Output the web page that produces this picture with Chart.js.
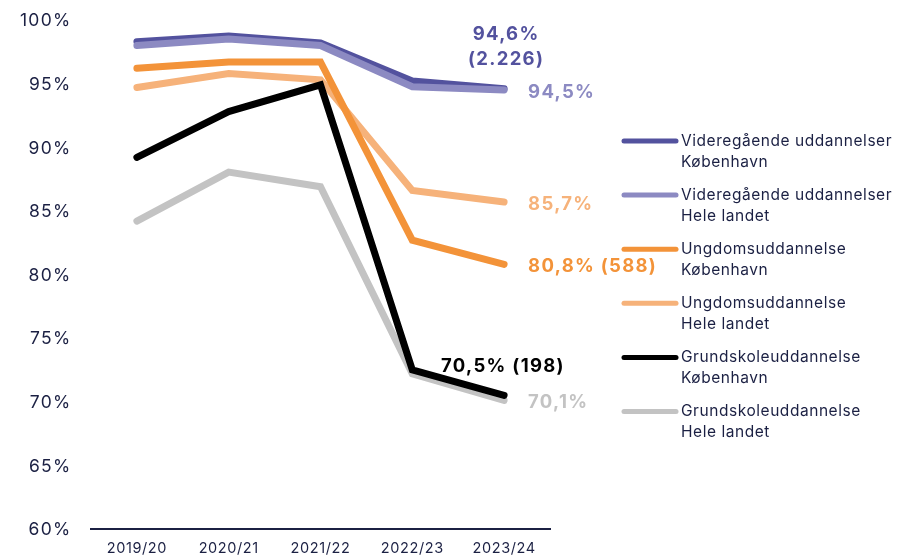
<!DOCTYPE html>
<html>
<head>
<meta charset="utf-8">
<script src="https://cdn.jsdelivr.net/npm/chart.js@4/dist/chart.umd.min.js"></script>
<style>
  html, body { margin: 0; padding: 0; background: #ffffff; }
  #wrap { width: 900px; height: 558px; position: relative; }
</style>
</head>
<body>
<div id="wrap"><canvas id="c" width="900" height="558"></canvas></div>
<script>
const categories = ["2019/20", "2020/21", "2021/22", "2022/23", "2023/24"];
const yTicks = [60, 65, 70, 75, 80, 85, 90, 95, 100];

const vidKbh   = [98.3, 98.75, 98.2, 95.2, 94.6];
const vidHele  = [98.0, 98.5, 98.0, 94.75, 94.5];
const ungKbh   = [96.2, 96.7, 96.7, 82.7, 80.8];
const ungHele  = [94.7, 95.8, 95.3, 86.6, 85.7];
const grundKbh = [89.2, 92.8, 94.9, 72.5, 70.5];
const grundHele= [84.2, 88.05, 86.9, 72.2, 70.1];

const seriesNames = [
  ["Videregående uddannelser", "København"],
  ["Videregående uddannelser", "Hele landet"],
  ["Ungdomsuddannelse", "København"],
  ["Ungdomsuddannelse", "Hele landet"],
  ["Grundskoleuddannelse", "København"],
  ["Grundskoleuddannelse", "Hele landet"]
];
const endLabels = [
  ["94,6%", "(2.226)"],
  ["94,5%"],
  ["80,8% (588)"],
  ["85,7%"],
  ["70,5% (198)"],
  ["70,1%"]
];

const colors = ["#53529e", "#8c8ac2", "#f39339", "#f6b27a", "#000000", "#c3c3c3"];
const drawOrder = [6, 5, 4, 5, 2, 3];
const navy = "#1b2043";
const FONT = "Inter, 'Open Sans', sans-serif";

const allData = [vidKbh, vidHele, ungKbh, ungHele, grundKbh, grundHele];

const datasets = allData.map((d, i) => ({
  label: seriesNames[i].join(" "),
  data: d,
  borderColor: colors[i],
  backgroundColor: colors[i],
  borderWidth: 7,
  pointRadius: 0,
  pointHoverRadius: 0,
  tension: 0,
  borderCapStyle: "round",
  borderJoinStyle: "miter",
  order: drawOrder[i]
}));

const tickPlugin = {
  id: "tickLabels",
  afterDraw(chart) {
    const ctx = chart.ctx;
    ctx.save();
    ctx.fillStyle = navy;
    ctx.textBaseline = "middle";
    const ys = chart.scales.y;
    ctx.font = "400 17.5px " + FONT;
    ctx.letterSpacing = "1.3px";
    ctx.textAlign = "right";
    ys.ticks.forEach((t, i) => {
      ctx.fillText(t.value + "%", 71.5, ys.getPixelForTick(i) + 1);
    });
    const xs = chart.scales.x;
    ctx.font = "400 14.5px " + FONT;
    ctx.letterSpacing = "0.6px";
    ctx.textAlign = "center";
    xs.ticks.forEach((t, i) => {
      ctx.fillText(categories[i], xs.getPixelForTick(i), 549);
    });
    ctx.restore();
  }
};

const endLabelPlugin = {
  id: "endLabels",
  afterDatasetsDraw(chart) {
    const ctx = chart.ctx;
    ctx.save();
    ctx.font = "bold 18.5px " + FONT;
    ctx.letterSpacing = "1.3px";
    ctx.textBaseline = "middle";
    chart.data.datasets.forEach((ds, i) => {
      const meta = chart.getDatasetMeta(i);
      const pt = meta.data[meta.data.length - 1];
      const lines = endLabels[i];
      ctx.fillStyle = colors[i];
      if (i === 0) {
        ctx.textAlign = "center";
        ctx.fillText(lines[0], pt.x + 2, pt.y - 54);
        ctx.fillText(lines[1], pt.x + 2, pt.y - 29);
      } else if (i === 4) {
        ctx.textAlign = "left";
        ctx.fillText(lines[0], pt.x - 63, pt.y - 29);
      } else {
        ctx.textAlign = "left";
        ctx.fillText(lines[0], pt.x + 24, pt.y + 2);
      }
    });
    ctx.restore();
  }
};

const legendPlugin = {
  id: "customLegend",
  afterDraw(chart) {
    const ctx = chart.ctx;
    ctx.save();
    const x0 = 622, x1 = 678, tx = 681, y0 = 141, step = 54.1;
    chart.data.datasets.forEach((ds, i) => {
      const y = y0 + i * step;
      ctx.strokeStyle = colors[i];
      ctx.lineWidth = 5;
      ctx.lineCap = "round";
      ctx.beginPath();
      ctx.moveTo(x0 + 2, y);
      ctx.lineTo(x1 - 2, y);
      ctx.stroke();
      ctx.fillStyle = navy;
      ctx.font = "400 15.5px " + FONT;
      ctx.letterSpacing = "0.55px";
      ctx.textAlign = "left";
      ctx.textBaseline = "middle";
      ctx.fillText(seriesNames[i][0], tx, y);
      ctx.fillText(seriesNames[i][1], tx, y + 21);
    });
    ctx.restore();
  }
};

new Chart(document.getElementById("c"), {
  type: "line",
  data: { labels: categories, datasets },
  options: {
    responsive: false,
    animation: false,
    events: [],
    layout: { padding: { top: 20, right: 350, bottom: 0, left: 0 } },
    plugins: { legend: { display: false }, tooltip: { enabled: false } },
    scales: {
      x: {
        offset: true,
        grid: { display: false, drawTicks: false },
        border: { display: true, color: navy, width: 2 },
        ticks: { display: false },
        afterFit(s) { s.height = 29; }
      },
      y: {
        min: 60, max: 100,
        afterBuildTicks(s) { s.ticks = yTicks.map(v => ({ value: v })); },
        grid: { display: false, drawTicks: false },
        border: { display: false },
        ticks: { display: false },
        afterFit(s) { s.width = 91; }
      }
    }
  },
  plugins: [endLabelPlugin, legendPlugin, tickPlugin]
});
</script>
</body>
</html>
